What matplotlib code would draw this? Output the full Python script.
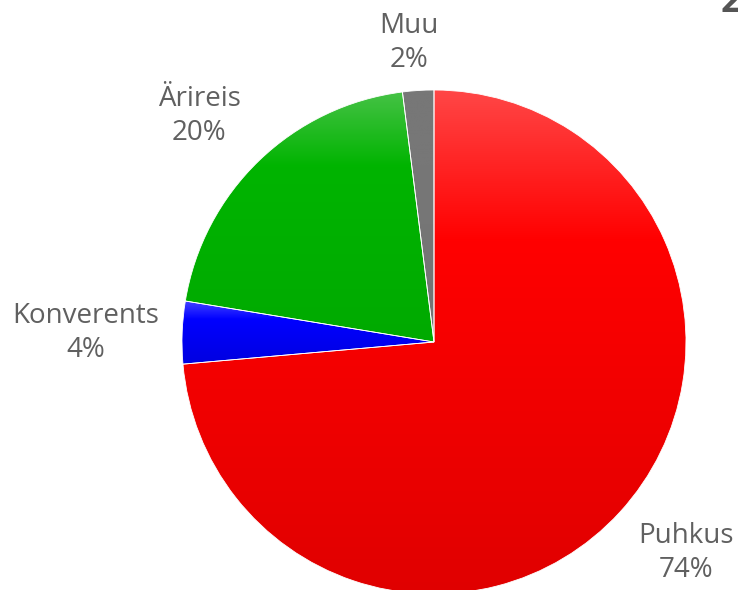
import numpy as np
import matplotlib.pyplot as plt
from matplotlib.colors import LinearSegmentedColormap

plt.rcParams['font.family'] = ['Open Sans', 'DejaVu Sans']

labels = ['Puhkus', 'Konverents', 'Ärireis', 'Muu']
values = [73.6, 4.0, 20.4, 2.0]
pct_labels = ['74%', '4%', '20%', '2%']
# light top, base, darker bottom for each slice
shades = [('#ff4646', '#ff0000', '#e00000'),
          ('#4646ff', '#0000ff', '#0000e0'),
          ('#46c246', '#00b400', '#00aa00'),
          ('#777777', '#777777', '#747474')]
label_pos = [(686, 37), (86, 257), (199, 474), (409, 547)]

fig = plt.figure(figsize=(7.38, 5.90), dpi=100)
ax = fig.add_axes([0, 0, 1, 1])

wedges, _ = ax.pie(values, center=(434, 248), radius=252, startangle=90,
                   counterclock=False, frame=True,
                   wedgeprops=dict(linewidth=0.6, edgecolor='white'))
ax.set_xlim(0, 738)
ax.set_ylim(0, 590)
ax.set_aspect('auto')
ax.axis('off')

for w, (c0, c1, c2) in zip(wedges, shades):
    ext = w.get_path().get_extents()
    cmap = LinearSegmentedColormap.from_list('g', [(0, c0), (0.3, c1), (1, c2)])
    grad = np.linspace(0, 1, 256).reshape(-1, 1)
    im = ax.imshow(grad, cmap=cmap, aspect='auto', origin='upper',
                   extent=[ext.x0, ext.x1, ext.y0, ext.y1], zorder=1.5)
    im.set_clip_path(w)
    w.set_facecolor('none')
    w.set_zorder(2)

for lab, pct, (x, y) in zip(labels, pct_labels, label_pos):
    ax.text(x, y, lab + '\n' + pct, ha='center', va='center', fontsize=20,
            color='#606060', linespacing=1.25)

# partly visible title in the top right corner
ax.text(731, 578, '2', ha='center', va='baseline', fontsize=26,
        color='#555555', fontweight='bold')

fig.savefig('out.png', dpi=100)
